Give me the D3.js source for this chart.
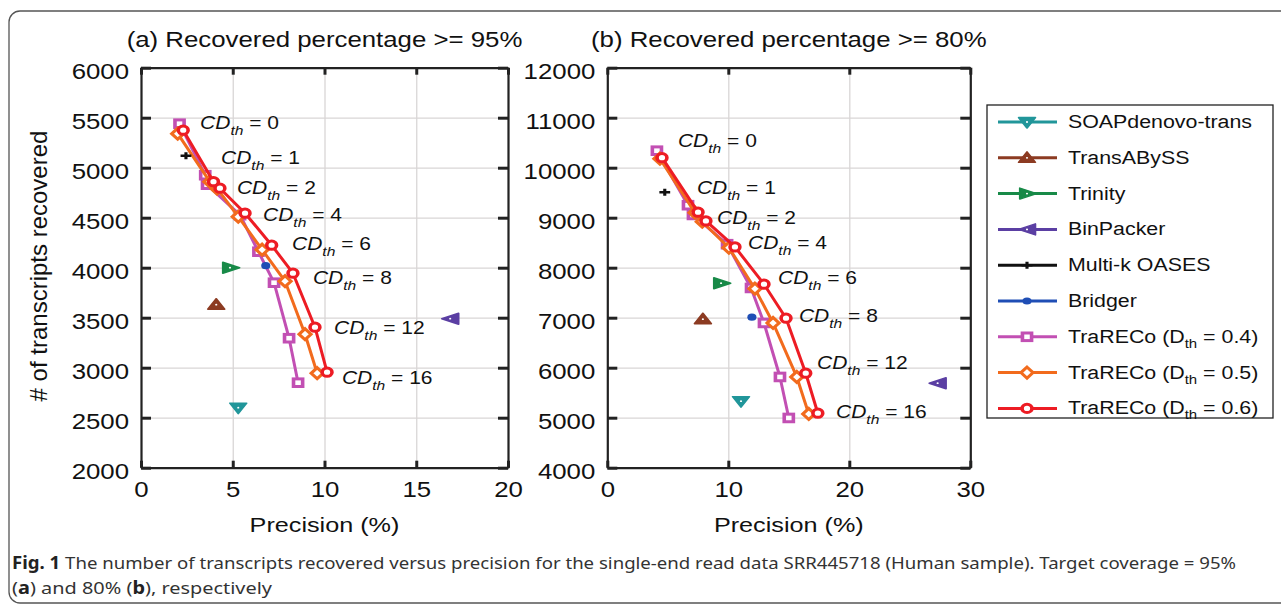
<!DOCTYPE html>
<html>
<head>
<meta charset="utf-8">
<script src="https://d3js.org/d3.v7.min.js"></script>
<style>
  body { margin: 0; background: #fff; }
  svg text { font-family: "Liberation Sans", Arial, sans-serif; fill: #111; }
  svg text.caption { font-family: "Noto Sans", "Open Sans", sans-serif; fill: #333; }
</style>
</head>
<body>
<svg id="fig" width="1281" height="609"></svg>
<script>
// CD threshold of each point along a TraRECo curve
var cdLevels = [0, 1, 2, 4, 6, 8, 12, 16];

// (a) recovered percentage >= 95%
var precA04 = [2.1, 3.5, 3.6, 5.4, 6.4, 7.25, 8.07, 8.56];
var recA04  = [5440, 4925, 4830, 4525, 4160, 3850, 3295, 2850];
var precA05 = [2.0, 3.75, 4.15, 5.3, 6.6, 7.85, 8.94, 9.6];
var recA05  = [5340, 4860, 4790, 4510, 4180, 3865, 3335, 2945];
var precA06 = [2.3, 3.95, 4.3, 5.67, 7.12, 8.28, 9.48, 10.14];
var recA06  = [5375, 4860, 4795, 4545, 4225, 3945, 3405, 2955];

// (b) recovered percentage >= 80%
var precB04 = [4.1, 6.67, 7.08, 9.9, 11.88, 12.95, 14.27, 15.0];
var recB04  = [10340, 9250, 9055, 8470, 7595, 6895, 5815, 4995];
var precB05 = [4.35, 7.25, 7.85, 10.05, 12.2, 13.7, 15.66, 16.65];
var recB05  = [10180, 9100, 8920, 8400, 7580, 6895, 5815, 5075];
var precB06 = [4.52, 7.5, 8.15, 10.55, 12.95, 14.77, 16.4, 17.4];
var recB06  = [10200, 9110, 8935, 8415, 7670, 6990, 5890, 5090];

// other assemblers, one point each
var toolNames = ["SOAPdenovo-trans", "TransABySS", "Trinity", "BinPacker", "Multi-k OASES", "Bridger"];
var toolPrecA = [5.3, 4.1, 4.85, 16.85, 2.45, 6.8];
var toolRecA  = [2600, 3630, 4000, 3490, 5120, 4020];
var toolPrecB = [11.05, 7.9, 9.4, 27.3, 4.75, 11.95];
var toolRecB  = [5330, 6970, 7690, 5690, 9510, 7010];

var traDth = ["0.4", "0.5", "0.6"];

// where the CD_th annotations sit, in data units
var cdLabelPrecA = [3.22, 4.36, 5.23, 6.65, 8.23, 9.37, 10.52, 10.95];
var cdLabelRecA  = [5457, 5107, 4807, 4537, 4247, 3907, 3407, 2907];
var cdLabelPrecB = [5.84, 7.41, 9.07, 11.63, 14.11, 15.84, 17.33, 18.9];
var cdLabelRecB  = [10554, 9614, 9014, 8514, 7814, 7054, 6114, 5134];

var xTicksA = [0, 5, 10, 15, 20];
var yTicksA = [2000, 2500, 3000, 3500, 4000, 4500, 5000, 5500, 6000];
var xTicksB = [0, 10, 20, 30];
var yTicksB = [4000, 5000, 6000, 7000, 8000, 9000, 10000, 11000, 12000];

// the source figure is stretched sideways; text and markers follow that
var sx = 1.2;

var toolStyle = [
  { color: "#21969a", shape: "down" },
  { color: "#8c3b22", shape: "up" },
  { color: "#188a48", shape: "right" },
  { color: "#5b3fa3", shape: "left" },
  { color: "#111111", shape: "plus" },
  { color: "#1f4eb5", shape: "dot" }
];
var traStyle = [
  { color: "#c24fb3", shape: "square" },
  { color: "#f26b1d", shape: "diamond" },
  { color: "#ed1c24", shape: "circle" }
];

var svg = d3.select("#fig");

// rounded figure border
svg.append("rect")
  .attr("x", 9).attr("y", 11).attr("width", 1320).attr("height", 592).attr("rx", 11)
  .attr("fill", "none").attr("stroke", "#555").attr("stroke-width", 1.3);

function squeeze(x, y) {
  return "translate(" + x + "," + y + ") scale(" + sx + ",1)";
}

function drawMarker(g, st, cx, cy) {
  var m = g.append("g").attr("transform", squeeze(cx, cy));
  var c = st.color;
  if (st.shape === "down" || st.shape === "up" || st.shape === "right" || st.shape === "left") {
    var d = {
      down: "M-7,-4.5L7,-4.5L0,6Z",
      up: "M-7,4.5L7,4.5L0,-6Z",
      right: "M-6,-5.5L-6,5.5L8,0Z",
      left: "M7,-5.5L7,5.5L-7,0Z"
    }[st.shape];
    m.append("path").attr("d", d).attr("fill", c).attr("stroke", c)
      .attr("stroke-width", 1.5).attr("stroke-linejoin", "round");
    m.append("circle").attr("r", 0.9).attr("fill", "#fff");
  } else if (st.shape === "plus") {
    m.append("path").attr("d", "M-4.5,0H4.5M0,-3.5V3.5").attr("stroke", c).attr("stroke-width", 2.6);
  } else if (st.shape === "dot") {
    m.append("ellipse").attr("rx", 3.8).attr("ry", 3.6).attr("fill", c);
  } else if (st.shape === "square") {
    m.append("rect").attr("x", -3.8).attr("y", -3.8).attr("width", 7.6).attr("height", 7.6)
      .attr("fill", "#fff").attr("stroke", c).attr("stroke-width", 3);
  } else if (st.shape === "diamond") {
    m.append("path").attr("d", "M0,-5.5L5,0L0,5.5L-5,0Z")
      .attr("fill", "#fff").attr("stroke", c).attr("stroke-width", 2.8);
  } else if (st.shape === "circle") {
    m.append("circle").attr("r", 4.1)
      .attr("fill", "#fff").attr("stroke", c).attr("stroke-width", 3);
  }
}

function drawPanel(p) {
  var x = d3.scaleLinear().domain([p.xTicks[0], p.xTicks[p.xTicks.length - 1]]).range([p.left, p.right]);
  var y = d3.scaleLinear().domain([p.yTicks[0], p.yTicks[p.yTicks.length - 1]]).range([p.bottom, p.top]);
  var g = svg.append("g");
  var h = p.bottom - p.top, w = p.right - p.left;

  // grid
  g.append("g").attr("transform", "translate(0," + p.bottom + ")")
    .call(d3.axisBottom(x).tickValues(p.xTicks).tickSize(-h).tickFormat(""))
    .call(function (a) { a.select(".domain").remove(); a.selectAll("line").attr("stroke", "#d9d6d6").attr("stroke-width", 1.3); });
  g.append("g").attr("transform", "translate(" + p.left + ",0)")
    .call(d3.axisLeft(y).tickValues(p.yTicks).tickSize(-w).tickFormat(""))
    .call(function (a) { a.select(".domain").remove(); a.selectAll("line").attr("stroke", "#d9d6d6").attr("stroke-width", 1.3); });

  // box axes with inward ticks
  var axes = [
    [d3.axisBottom(x).tickValues(p.xTicks).tickSize(-7).tickSizeOuter(0).tickPadding(14).tickFormat(d3.format("d")), "translate(0," + p.bottom + ")", true],
    [d3.axisTop(x).tickValues(p.xTicks).tickSize(-7).tickSizeOuter(0).tickFormat(""), "translate(0," + p.top + ")", false],
    [d3.axisLeft(y).tickValues(p.yTicks).tickSize(-10).tickSizeOuter(0).tickPadding(12).tickFormat(d3.format("d")), "translate(" + p.left + ",0)", true],
    [d3.axisRight(y).tickValues(p.yTicks).tickSize(-10).tickSizeOuter(0).tickFormat(""), "translate(" + p.right + ",0)", false]
  ];
  axes.forEach(function (a, k) {
    var ag = g.append("g").attr("transform", a[1]).call(a[0]);
    ag.select(".domain").attr("stroke", "#222").attr("stroke-width", 2.2);
    ag.selectAll(".tick line").attr("stroke", "#222").attr("stroke-width", 3);
    if (a[2]) {
      ag.selectAll("text").attr("font-size", 21.5).attr("fill", "#111");
      if (k === 0) {
        ag.selectAll("text").attr("transform", "scale(" + sx + ",1)");
      } else {
        ag.selectAll("text").attr("x", -12 / sx).attr("dy", "0.5em")
          .attr("transform", "scale(" + sx + ",1)");
      }
    }
  });

  // TraRECo curves
  var line = d3.line().x(function (d) { return x(d.p); }).y(function (d) { return y(d.r); });
  p.tra.forEach(function (s, k) {
    var pts = cdLevels.map(function (c, i) { return { cd: c, p: s[0][i], r: s[1][i] }; });
    g.append("path").datum(pts).attr("d", line)
      .attr("fill", "none").attr("stroke", traStyle[k].color).attr("stroke-width", 3)
      .attr("stroke-linejoin", "round");
    pts.forEach(function (d) { drawMarker(g, traStyle[k], x(d.p), y(d.r)); });
  });

  // single assemblers
  toolNames.forEach(function (n, i) {
    drawMarker(g, toolStyle[i], x(p.toolPrec[i]), y(p.toolRec[i]));
  });

  // CD_th annotations
  cdLevels.forEach(function (c, i) {
    var t = g.append("text").attr("transform", squeeze(x(p.labPrec[i]), y(p.labRec[i]) + 6.5))
      .attr("font-size", 17.5);
    t.append("tspan").attr("font-style", "italic").text("CD");
    t.append("tspan").attr("font-style", "italic").attr("font-size", 13).attr("dy", 6).text("th");
    t.append("tspan").attr("dy", -6).text(" = " + c);
  });

  // title and x label
  g.append("text").attr("transform", squeeze((p.left + p.right) / 2, 47))
    .attr("text-anchor", "middle").attr("font-size", 21.5).text(p.title);
  g.append("text").attr("transform", squeeze((p.left + p.right) / 2, 532))
    .attr("text-anchor", "middle").attr("font-size", 21).text("Precision (%)");
}

drawPanel({
  left: 141, right: 508, top: 67.7, bottom: 467.7,
  xTicks: xTicksA, yTicks: yTicksA,
  tra: [[precA04, recA04], [precA05, recA05], [precA06, recA06]],
  toolPrec: toolPrecA, toolRec: toolRecA,
  labPrec: cdLabelPrecA, labRec: cdLabelRecA,
  title: "(a) Recovered percentage >= 95%"
});
drawPanel({
  left: 607.3, right: 970.3, top: 67.7, bottom: 467.7,
  xTicks: xTicksB, yTicks: yTicksB,
  tra: [[precB04, recB04], [precB05, recB05], [precB06, recB06]],
  toolPrec: toolPrecB, toolRec: toolRecB,
  labPrec: cdLabelPrecB, labRec: cdLabelRecB,
  title: "(b) Recovered percentage >= 80%"
});

// y label
svg.append("text").attr("transform", "translate(47,266) rotate(-90)")
  .attr("text-anchor", "middle").attr("font-size", 24).text("# of transcripts recovered");

// legend
var leg = svg.append("g");
leg.append("rect").attr("x", 987).attr("y", 105).attr("width", 286).attr("height", 313)
  .attr("fill", "#fff").attr("stroke", "#222").attr("stroke-width", 1.3);
var legItems = toolNames.map(function (n, i) { return { name: n, st: toolStyle[i] }; })
  .concat(traDth.map(function (d, i) { return { name: "TraRECo", dth: d, st: traStyle[i] }; }));
legItems.forEach(function (it, i) {
  var cy = 122 + i * 35.8;
  leg.append("line").attr("x1", 998).attr("x2", 1057).attr("y1", cy).attr("y2", cy)
    .attr("stroke", it.st.color).attr("stroke-width", 3);
  drawMarker(leg, it.st, 1027, cy);
  var t = leg.append("text").attr("transform", squeeze(1068, cy + 6)).attr("font-size", 17.8);
  if (it.dth) {
    t.append("tspan").text(it.name + " (D");
    t.append("tspan").attr("font-size", 12.5).attr("dy", 5).text("th");
    t.append("tspan").attr("dy", -5).text(" = " + it.dth + ")");
  } else {
    t.text(it.name);
  }
});

// caption
var cap1 = svg.append("text").attr("class", "caption").attr("x", 12).attr("y", 569)
  .attr("font-size", 17).attr("textLength", 1224).attr("lengthAdjust", "spacingAndGlyphs");
cap1.append("tspan").attr("font-weight", "bold").style("fill", "#222").text("Fig. 1");
cap1.append("tspan").text(" The number of transcripts recovered versus precision for the single-end read data SRR445718 (Human sample). Target coverage = 95%");
var cap2 = svg.append("text").attr("class", "caption").attr("x", 12).attr("y", 594)
  .attr("font-size", 17).attr("textLength", 260).attr("lengthAdjust", "spacingAndGlyphs");
cap2.append("tspan").text("(");
cap2.append("tspan").attr("font-weight", "bold").style("fill", "#222").text("a");
cap2.append("tspan").text(") and 80% (");
cap2.append("tspan").attr("font-weight", "bold").style("fill", "#222").text("b");
cap2.append("tspan").text("), respectively");
</script>
</body>
</html>
